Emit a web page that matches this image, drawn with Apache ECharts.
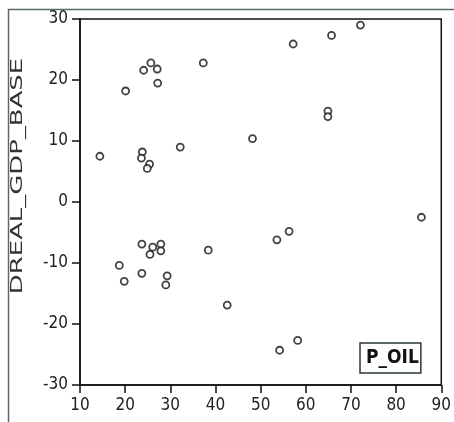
<!DOCTYPE html>
<html>
<head>
<meta charset="utf-8">
<script src="https://cdn.jsdelivr.net/npm/echarts@6/dist/echarts.min.js"></script>
<style>
  html, body { margin: 0; padding: 0; background: #fff; }
  #chart { width: 454px; height: 422px; }
</style>
</head>
<body>
<div id="chart"></div>
<script>
// P_OIL values (x) and DREAL_GDP_BASE values (y)
const pOil = [
  14.4, 20.1, 24.1, 25.7, 27.1, 27.2, 37.3, 23.8, 23.6, 25.4, 24.9, 32.2,
  57.2, 65.7, 72.1, 64.9, 64.9, 48.2,
  23.7, 26.1, 25.5, 27.9, 27.9, 18.7, 19.8, 23.7, 29.3, 29.0, 38.4, 42.6,
  53.6, 56.3, 85.6, 54.2, 58.2
];
const drealGdpBase = [
  7.5, 18.2, 21.6, 22.8, 21.8, 19.5, 22.8, 8.2, 7.2, 6.2, 5.5, 9.0,
  25.9, 27.3, 29.0, 14.9, 14.0, 10.4,
  -6.9, -7.4, -8.6, -6.9, -8.0, -10.4, -13.0, -11.7, -12.1, -13.6, -7.9, -16.9,
  -6.2, -4.8, -2.5, -24.3, -22.7
];
const seriesName = 'P_OIL';
const yTitle = 'DREAL_GDP_BASE';

const points = pOil.map((x, i) => [x, drealGdpBase[i]]);
const narrow = "'Liberation Sans Narrow', 'DejaVu Sans Condensed', 'Liberation Sans', sans-serif";

const chart = echarts.init(document.getElementById('chart'));
chart.setOption({
  animation: false,
  backgroundColor: '#fff',
  grid: {
    left: 80,
    top: 19,
    right: 8,
    bottom: 37,
    show: true,
    borderColor: '#111',
    borderWidth: 1.5
  },
  graphic: [
    {
      type: 'rect',
      shape: { x: 8.5, y: 9.5, width: 600, height: 600 },
      style: { fill: 'none', stroke: '#5a6868', lineWidth: 1.5 },
      silent: true
    },
    {
      // rotated y title, stretched along its length like the original
      type: 'text',
      x: 10,
      y: 176,
      rotation: Math.PI / 2,
      scaleX: 1.8,
      style: {
        text: yTitle,
        font: "16px " + narrow,
        fill: '#333',
        align: 'center',
        verticalAlign: 'top'
      },
      silent: true
    }
  ],
  legend: {
    data: [seriesName],
    left: 360,
    top: 343,
    icon: 'rect',
    itemWidth: 0,
    itemHeight: 0,
    itemGap: 0,
    padding: [6, 2, 5, 0],
    borderColor: '#2a3a3a',
    borderWidth: 1.5,
    textStyle: {
      fontFamily: narrow,
      fontWeight: 'bold',
      fontSize: 19,
      color: '#111'
    }
  },
  xAxis: {
    type: 'value',
    min: 10,
    max: 90,
    interval: 10,
    axisLine: { onZero: false, lineStyle: { color: '#111', width: 1.5 } },
    axisTick: { length: 8, lineStyle: { color: '#111', width: 1.5 } },
    axisLabel: { color: '#222', fontSize: 17, fontFamily: narrow, margin: 12 },
    splitLine: { show: false }
  },
  yAxis: {
    type: 'value',
    min: -30,
    max: 30,
    interval: 10,
    axisLine: { show: true, onZero: false, lineStyle: { color: '#111', width: 1.5 } },
    axisTick: { show: true, length: 8, lineStyle: { color: '#111', width: 1.5 } },
    axisLabel: { color: '#222', fontSize: 17, fontFamily: narrow, margin: 12 },
    splitLine: { show: false }
  },
  series: [
    {
      name: seriesName,
      type: 'scatter',
      data: points,
      symbol: 'circle',
      symbolSize: 7,
      itemStyle: { color: '#fff', borderColor: '#111', borderWidth: 1.8 }
    }
  ]
});
</script>
</body>
</html>
